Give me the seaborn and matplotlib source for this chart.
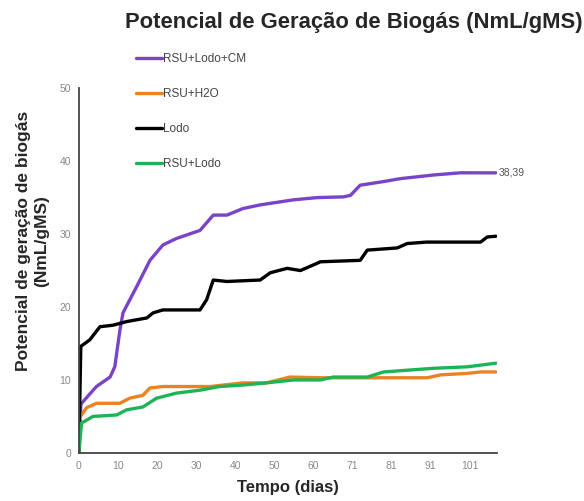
import pandas as pd
import seaborn as sns
import matplotlib.pyplot as plt
from matplotlib.ticker import MultipleLocator

# values (day, NmL/gMS)
cm_days = [0, 0.5, 0.7, 4.5, 8, 9.2, 10.5, 11.3, 14.8, 18.2, 21.5, 25, 31, 34.4, 37.9, 42, 46.4,
           55, 61, 67.7, 69.5, 72, 78, 82.3, 90.8, 97.7, 106.7]
cm_vals = [0, 6.5, 6.8, 9.1, 10.4, 11.8, 16.8, 19.2, 22.8, 26.4, 28.5, 29.4, 30.5, 32.6, 32.6, 33.5, 34.0,
           34.7, 35.0, 35.1, 35.3, 36.7, 37.2, 37.6, 38.1, 38.4, 38.39]

h2o_days = [0, 0.4, 2, 4.5, 10.5, 13, 16.4, 18.2, 21.5, 33.6, 42, 48, 54, 61.8, 89.2, 92.6, 99.4, 102.8, 106.7]
h2o_vals = [0, 5.0, 6.2, 6.8, 6.8, 7.5, 7.9, 8.9, 9.1, 9.1, 9.6, 9.6, 10.4, 10.3, 10.3, 10.7, 10.9, 11.1, 11.1]

lodo_days = [0, 0.5, 2.8, 5.4, 8.7, 12.2, 17.4, 19, 21.5, 31, 32.7, 34.4, 37.9, 46.4, 49, 53.3, 56.7, 61,
             61.8, 72, 73.8, 81.5, 84, 89, 102.8, 104.5, 106.7]
lodo_vals = [0, 14.6, 15.5, 17.3, 17.5, 18.0, 18.5, 19.2, 19.6, 19.6, 21.0, 23.7, 23.5, 23.7, 24.7, 25.3, 25.0, 26.0,
             26.2, 26.4, 27.8, 28.1, 28.7, 28.9, 28.9, 29.6, 29.7]

rl_days = [0, 0.7, 3.6, 9.7, 12.2, 16.4, 19.9, 25, 31, 36, 42, 48, 55, 61.8, 65.1, 73.8, 78, 90.8, 99.4, 106.7]
rl_vals = [0, 4.1, 5.0, 5.2, 5.9, 6.3, 7.5, 8.2, 8.6, 9.1, 9.3, 9.6, 10.0, 10.0, 10.4, 10.4, 11.1, 11.6, 11.8, 12.3]

series = ["RSU+Lodo+CM", "RSU+H2O", "Lodo", "RSU+Lodo"]
colors = ["#7A44C8", "#EC8320", "#000000", "#1FB357"]
tick_pos = [0, 10, 20, 30, 40, 50, 60, 70, 80, 90, 100]
tick_labels = ["0", "10", "20", "30", "40", "50", "60", "71", "81", "91", "101"]

frames = []
for name, d, v in zip(series, [cm_days, h2o_days, lodo_days, rl_days], [cm_vals, h2o_vals, lodo_vals, rl_vals]):
    frames.append(pd.DataFrame({"dia": d, "valor": v, "serie": name}))
df = pd.concat(frames, ignore_index=True)

sns.set_style("white")
plt.rcParams['font.family'] = ['Liberation Sans', 'DejaVu Sans']

fig = plt.figure(figsize=(5.84, 5.01), dpi=100)
ax = fig.add_axes([0.135, 0.096, 0.716, 0.728])
sns.lineplot(data=df, x="dia", y="valor", hue="serie", hue_order=series,
             palette=dict(zip(series, colors)), linewidth=2.4, ax=ax, legend=False)

ax.set_xlim(0, 107)
ax.set_ylim(0, 50)
ax.set_xticks(tick_pos)
ax.set_xticklabels(tick_labels)
ax.xaxis.set_minor_locator(MultipleLocator(5))
ax.set_yticks(range(0, 51, 10))
ax.tick_params(axis="both", which="both", direction="inout", length=4, width=1, colors="#444444",
               labelsize=7.5, labelcolor="#888888")
ax.tick_params(axis="x", which="minor", length=3)
for s in ["top", "right"]:
    ax.spines[s].set_visible(False)
for s in ["left", "bottom"]:
    ax.spines[s].set_color("#444444")
    ax.spines[s].set_linewidth(1.3)

ax.set_xlabel("Tempo (dias)", fontsize=12, fontweight="bold")
ax.xaxis.set_label_coords(0.5, -0.075)
ax.set_ylabel("Potencial de geração de biogás\n(NmL/gMS)", fontsize=12.5, fontweight="bold")
ax.yaxis.set_label_coords(-0.072, 0.58)
ax.text(cm_days[-1] + 0.8, cm_vals[-1], "38,39", fontsize=7.5, color="#555555", va="center")

fig.text(0.605, 0.955, "Potencial de Geração de Biogás (NmL/gMS)", fontsize=15.8, fontweight="bold",
         ha="center", va="center")

handles = [plt.Line2D([], [], color=c, linewidth=2.4) for c in colors]
fig.legend(handles, series, loc="upper left", bbox_to_anchor=(0.215, 0.915), frameon=False,
           fontsize=8.5, handlelength=2.2, handletextpad=0.05, labelspacing=1.95, labelcolor="#444444")

fig.savefig("out.png", dpi=100)
